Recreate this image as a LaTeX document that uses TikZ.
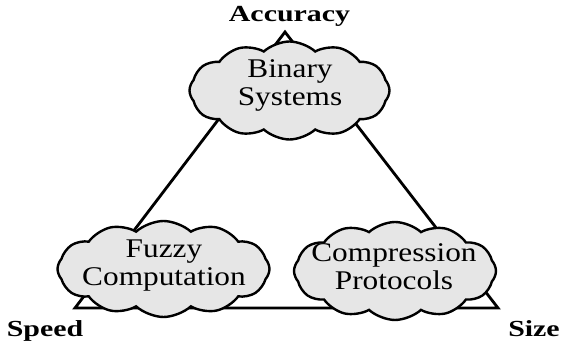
\documentclass[tikz,border=0pt]{standalone}
\usepackage{fontspec}
\setmainfont{Liberation Serif}
\newfontfamily\cloudfont[FakeStretch=1.16]{Liberation Serif}
\newfontfamily\cornerfont[FakeStretch=1.3]{Liberation Serif}
\usetikzlibrary{shapes.symbols}
\definecolor{puffgray}{HTML}{E6E6E6}
\tikzset{
  puff/.style={cloud, cloud puffs=12, cloud puff arc=85, cloud ignores aspect,
    draw=black, line width=2.4pt, fill=puffgray, inner sep=0pt},
  topic/.style={align=center, inner sep=0pt,
    font=\cloudfont\fontsize{27}{28}\selectfont},
  corner/.style={font=\cornerfont\bfseries\fontsize{23}{23}\selectfont,
    anchor=base, inner sep=0pt},
  edge/.style={line width=2.8pt, line join=miter}
}
\begin{document}
\begin{tikzpicture}[x=1pt,y=-1pt]
\useasboundingbox (0,0) rectangle (563,344);

% corners of the trade-off triangle
\coordinate (top) at (285,32);
\coordinate (left) at (75,308);
\coordinate (right) at (498,308);
\draw[edge] (top) -- (left) -- (right) -- cycle;

% clouds sitting on the triangle
\node[puff, minimum width=200pt, minimum height=98pt] (binary) at (289.5,90.5) {};
\node[puff, minimum width=212pt, minimum height=96pt] (fuzzy) at (163.5,269) {};
\node[puff, minimum width=202pt, minimum height=98pt] (compress) at (395,271) {};

% their titles
\node[topic] (binarytext) at (290,85) {Binary\\Systems};
\node[topic] (fuzzytext) at (164,266) {Fuzzy\\Computation};
\node[topic] (compresstext) at (394,267) {Compression\\Protocols};

% corner labels
\node[corner] (accuracy) at (289.5,22) {Accuracy};
\node[corner] (speed) at (45,337) {Speed};
\node[corner] (size) at (534,337) {Size};
\end{tikzpicture}
\end{document}
